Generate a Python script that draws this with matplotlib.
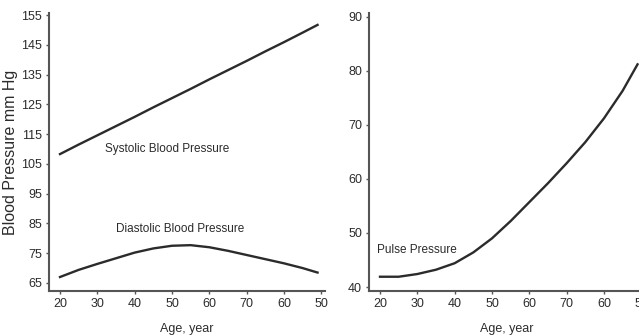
import matplotlib
matplotlib.use('Agg')
import matplotlib.pyplot as plt

# values
ages = [20, 25, 30, 35, 40, 45, 50, 55, 60, 65, 70, 75, 80, 85, 89]
systolic = [108.3, 111.5, 114.6, 117.7, 120.8, 124.0, 127.1, 130.2, 133.4, 136.5, 139.6, 142.8, 145.9, 149.1, 151.7]
diastolic = [67.0, 69.4, 71.4, 73.3, 75.2, 76.6, 77.5, 77.7, 77.0, 75.8, 74.4, 73.0, 71.6, 70.0, 68.5]
pulse = [41.9, 41.9, 42.4, 43.2, 44.4, 46.4, 49.0, 52.2, 55.7, 59.2, 62.9, 66.8, 71.2, 76.3, 81.2]

age_ticks = [20, 30, 40, 50, 60, 70, 80, 90]
age_labels = ['20', '30', '40', '50', '60', '70', '60', '50']
bp_ticks = [65, 75, 85, 95, 105, 115, 125, 135, 145, 155]
pp_ticks = [40, 50, 60, 70, 80, 90]

plt.rcParams['font.family'] = ['Liberation Sans', 'DejaVu Sans']

W, H = 639, 335
fig = plt.figure(figsize=(W / 100, H / 100), dpi=100)

def px_axes(x0, x1, y0, y1):
    # pixel box (top-left origin) -> figure fraction
    return fig.add_axes([x0 / W, 1 - y1 / H, (x1 - x0) / W, (y1 - y0) / H])

ax1 = px_axes(49, 325, 13, 291)
ax2 = px_axes(369, 645, 13, 291)

ink = '#2b2b2b'
fs = 8.5
for ax in (ax1, ax2):
    for s in ('top', 'right'):
        ax.spines[s].set_visible(False)
    for s in ('left', 'bottom'):
        ax.spines[s].set_color('#555555')
        ax.spines[s].set_linewidth(1.5)
    ax.set_xlim(17.05, 91.0)
    ax.set_xticks(age_ticks)
    ax.set_xticklabels(age_labels)
    ax.tick_params(length=2, width=1, color='#555555', labelcolor=ink, labelsize=9, pad=3)
    ax.set_xlabel('Age, year', fontsize=9, color=ink)
    ax.xaxis.set_label_coords(0.5, -0.115)

ax1.plot(ages, systolic, color=ink, lw=1.7)
ax1.plot(ages, diastolic, color=ink, lw=1.7)
ax1.set_ylim(62.3, 155.7)
ax1.set_yticks(bp_ticks)
ax1.set_ylabel('Blood Pressure mm Hg', fontsize=11.5, color=ink)
ax1.yaxis.set_label_coords(-0.113, 0.5)
ax1.text(32.1, 110.0, 'Systolic Blood Pressure', fontsize=fs, color=ink, ha='left', va='center')
ax1.text(35.0, 83.1, 'Diastolic Blood Pressure', fontsize=fs, color=ink, ha='left', va='center')

ax2.plot(ages, pulse, color=ink, lw=1.7)
ax2.set_ylim(39.26, 90.7)
ax2.set_yticks(pp_ticks)
ax2.text(19.2, 46.85, 'Pulse Pressure', fontsize=fs, color=ink, ha='left', va='center')

fig.savefig('out.png', dpi=100)
